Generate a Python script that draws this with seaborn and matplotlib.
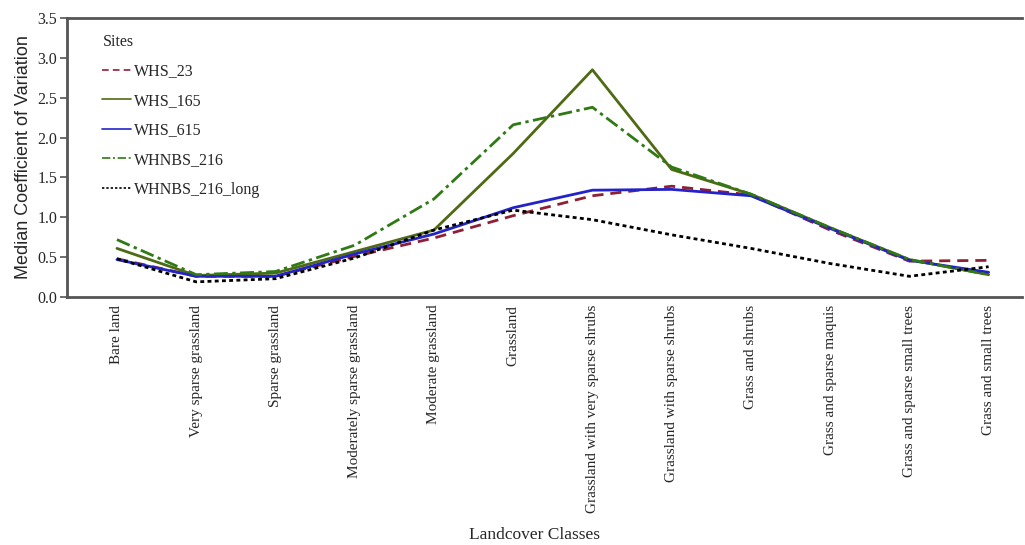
import matplotlib
matplotlib.use("Agg")
import matplotlib.pyplot as plt
import seaborn as sns
import pandas as pd

# landcover classes along the x axis
classes = ["Bare land", "Very sparse grassland", "Sparse grassland",
           "Moderately sparse grassland", "Moderate grassland", "Grassland",
           "Grassland with very sparse shrubs", "Grassland with sparse shrubs",
           "Grass and shrubs", "Grass and sparse maquis",
           "Grass and sparse small trees", "Grass and small trees"]

whs_23 = [0.48, 0.26, 0.26, 0.51, 0.74, 1.02, 1.27, 1.39, 1.28, 0.84, 0.45, 0.46]
whs_165 = [0.61, 0.27, 0.30, 0.57, 0.84, 1.80, 2.85, 1.60, 1.29, 0.87, 0.47, 0.28]
whs_615 = [0.47, 0.26, 0.26, 0.54, 0.79, 1.12, 1.34, 1.35, 1.27, 0.86, 0.46, 0.31]
whnbs_216 = [0.72, 0.28, 0.32, 0.65, 1.23, 2.16, 2.38, 1.63, 1.29, 0.87, 0.47, 0.28]
whnbs_216_long = [0.48, 0.19, 0.23, 0.49, 0.84, 1.09, 0.97, 0.78, 0.61, 0.42, 0.26, 0.38]

sites = ["WHS_23", "WHS_165", "WHS_615", "WHNBS_216", "WHNBS_216_long"]
values = [whs_23, whs_165, whs_615, whnbs_216, whnbs_216_long]

rows = []
for site, vals in zip(sites, values):
    for i, v in enumerate(vals):
        rows.append({"pos": i, "cv": v, "Sites": site})
df = pd.DataFrame(rows)

colors = {"WHS_23": "#8e1f35", "WHS_165": "#4e6a12", "WHS_615": "#2323c8",
          "WHNBS_216": "#2f7a14", "WHNBS_216_long": "#000000"}
dashes = {"WHS_23": (4, 2.5), "WHS_165": "", "WHS_615": "",
          "WHNBS_216": (5, 1.6, 1.2, 1.6), "WHNBS_216_long": (1.4, 1.2)}

sns.set_style("white")
serif = ["Liberation Serif", "DejaVu Serif"]

fig = plt.figure(figsize=(10.25, 5.45), dpi=100)
ax = fig.add_axes([0.0654, 0.455, 0.9316, 0.512])

sns.lineplot(data=df, x="pos", y="cv", hue="Sites", style="Sites",
             palette=colors, dashes=dashes, hue_order=sites, style_order=sites,
             linewidth=2, ax=ax)

ax.set_xlim(-0.63, 11.42)
ax.set_ylim(0, 3.5)
ax.set_xticks(range(len(classes)))
ax.set_xticklabels(classes, rotation=90, fontsize=11, family=serif, va="top")
ax.set_yticks([0, 0.5, 1.0, 1.5, 2.0, 2.5, 3.0, 3.5])
ax.set_yticklabels(["0.0", "0.5", "1.0", "1.5", "2.0", "2.5", "3.0", "3.5"],
                   fontsize=11.5, family=serif)
ax.tick_params(axis="y", left=True, length=5, width=1.2, color="#555555", pad=2)
ax.tick_params(axis="x", bottom=False, pad=2)

for side in ["left", "bottom", "top"]:
    ax.spines[side].set_color("#555555")
    ax.spines[side].set_linewidth(2)
ax.spines["right"].set_visible(False)

ax.set_ylabel("Median Coefficient of Variation", fontsize=13,
              family=["Liberation Sans", "DejaVu Sans"], labelpad=4)
ax.set_xlabel("Landcover Classes", fontsize=12.5, family=serif)
ax.xaxis.set_label_coords(0.49, -0.825)

leg = ax.legend(title="Sites", loc="upper left", bbox_to_anchor=(0.022, 0.995),
                frameon=False, handlelength=1.8, handletextpad=0.2,
                labelspacing=0.85, prop={"family": serif, "size": 11.5})
leg.get_title().set_fontfamily(serif)
leg.get_title().set_fontsize(11.5)
leg._legend_box.align = "left"
for line in leg.get_lines():
    line.set_linewidth(1.2)

fig.savefig("out.png", dpi=100)
